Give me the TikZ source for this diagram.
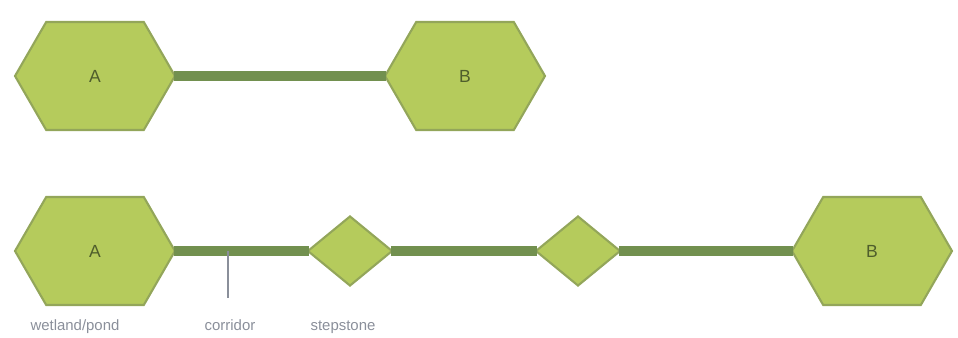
\documentclass[tikz,border=0pt]{standalone}
\usepackage{fontspec}
\setsansfont{Liberation Sans}
\usetikzlibrary{shapes.symbols,shapes.geometric}

\definecolor{patchgreen}{HTML}{B5CB5C}
\definecolor{edgegreen}{HTML}{93A65A}
\definecolor{corrgreen}{HTML}{72904F}
\definecolor{textgreen}{HTML}{4F5E2C}
\definecolor{labelgray}{HTML}{8A8F9A}

\begin{document}
\begin{tikzpicture}[x=0.02cm, y=-0.02cm,
  patch/.style={shape=signal, signal to=west and east, signal pointer angle=120,
    fill=patchgreen, draw=edgegreen, line width=1.2pt, inner sep=0pt,
    minimum width=3.2cm, minimum height=2.16cm, text=textgreen,
    font=\sffamily\fontsize{10}{12}\selectfont},
  stone/.style={diamond, aspect=1.2, fill=patchgreen, draw=edgegreen, line width=1.2pt,
    inner sep=0pt, minimum width=1.7cm, minimum height=1.4cm},
  corridor/.style={draw=corrgreen, line width=0.2cm, shorten <=-1.5pt, shorten >=-1.5pt},
  tag/.style={text=labelgray, anchor=base, font=\sffamily\fontsize{8.5}{10}\selectfont}]

\useasboundingbox (0,0) rectangle (958,338);

% top: two patches joined by a corridor
\node[patch] (a1) at (95,76) {A};
\node[patch] (b1) at (465,76) {B};
\draw[corridor] (a1.east) -- (b1.west);

% bottom: corridor with stepstones
\node[patch] (a2) at (95,251) {A};
\node[stone] (s1) at (350,251) {};
\node[stone] (s2) at (578,251) {};
\node[patch] (b2) at (872,251) {B};
\draw[corridor] (a2.east) -- (s1.west);
\draw[corridor] (s1.east) -- (s2.west);
\draw[corridor] (s2.east) -- (b2.west);

% labels
\coordinate (tick) at (228,251);
\coordinate (tickend) at (228,298);
\draw[labelgray, line width=0.8pt] (tick) -- (tickend);
\node[tag] (lpatch) at (75,330) {wetland/pond};
\node[tag] (lcorr) at (230,330) {corridor};
\node[tag] (lstone) at (343,330) {stepstone};

\end{tikzpicture}
\end{document}
